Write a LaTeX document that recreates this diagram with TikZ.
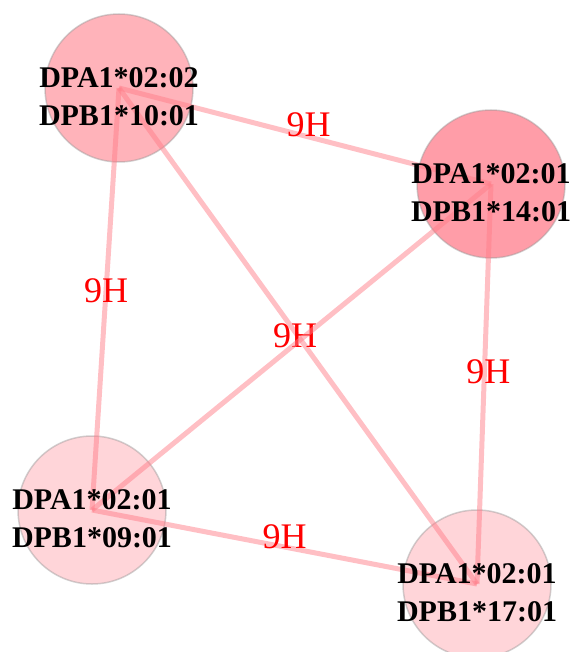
\documentclass[tikz,border=0pt]{standalone}
\usepackage{fontspec}
\setmainfont{Liberation Serif}
\definecolor{fillMid}{HTML}{FFB3BA}
\definecolor{fillDark}{HTML}{FF9DA8}
\definecolor{fillLight}{HTML}{FFD5D9}
\definecolor{linkRed}{HTML}{FF7F8A}

\begin{document}
\begin{tikzpicture}[x=1pt, y=-1pt,
    allele/.style={circle, draw=gray!80, draw opacity=.45, line width=1.5pt,
        minimum size=148pt, inner sep=0pt},
    link/.style={line width=5pt, draw=linkRed, draw opacity=.5},
    hours/.style={text=red, font=\fontsize{36}{40}\selectfont},
    allelename/.style={font=\fontsize{30}{38}\selectfont\bfseries, align=center, yshift=-9pt}]
    \useasboundingbox (0,0) rectangle (578,652);

    % 1. The four alleles as circles
    \node[allele, fill=fillMid]   (a) at (119,88)  {};
    \node[allele, fill=fillDark]  (b) at (491,184) {};
    \node[allele, fill=fillLight] (c) at (92,510)  {};
    \node[allele, fill=fillLight] (d) at (477,584) {};

    % 2. Links from centre to centre, each with its time
    \draw[link] (a.center) -- node[hours, pos=.51, yshift=12pt] (h1) {9H} (b.center);
    \draw[link] (a.center) -- node[hours, pos=.48] (h2) {9H} (c.center);
    \draw[link] (a.center) -- node[hours, pos=.5, xshift=-3pt] (h3) {9H} (d.center);
    \draw[link] (b.center) -- (c.center);
    \draw[link] (b.center) -- node[hours, pos=.47, xshift=4pt] (h4) {9H} (d.center);
    \draw[link] (c.center) -- node[hours, pos=.5, yshift=10pt] (h5) {9H} (d.center);

    % 3. Allele names on top
    \node[allelename] (na) at (a) {DPA1*02:02\\DPB1*10:01};
    \node[allelename] (nb) at (b) {DPA1*02:01\\DPB1*14:01};
    \node[allelename] (nc) at (c) {DPA1*02:01\\DPB1*09:01};
    \node[allelename] (nd) at (d) {DPA1*02:01\\DPB1*17:01};

\end{tikzpicture}
\end{document}
